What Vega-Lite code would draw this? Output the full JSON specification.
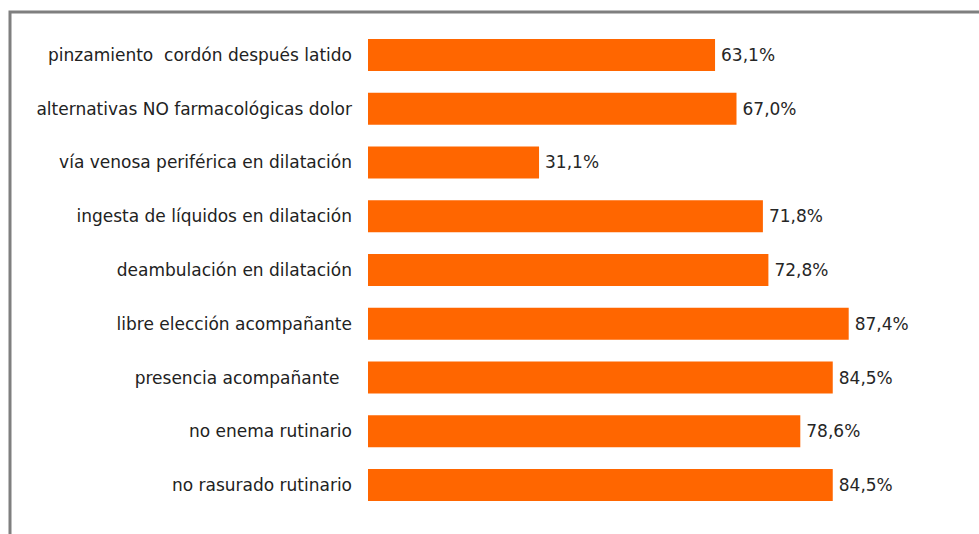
{
  "$schema": "https://vega.github.io/schema/vega-lite/v6.json",
  "autosize": "none",
  "width": 980,
  "height": 540,
  "padding": {"left": 10, "top": 12, "right": 0, "bottom": 0},
  "background": "white",
  "config": {
    "locale": {"number": {"decimal": ",", "thousands": ".", "grouping": [3], "currency": ["", " €"]}},
    "view": {"stroke": "#7f7f7f", "strokeWidth": 3},
    "font": "DejaVu Sans"
  },
  "data": {
    "values": [
      {"item": "pinzamiento\u00a0 cordón después latido", "value": 0.631},
      {"item": "alternativas NO farmacológicas dolor", "value": 0.670},
      {"item": "vía venosa periférica en dilatación", "value": 0.311},
      {"item": "ingesta de líquidos en dilatación", "value": 0.718},
      {"item": "deambulación en dilatación", "value": 0.728},
      {"item": "libre elección acompañante", "value": 0.874},
      {"item": "presencia acompañante\u2800", "value": 0.845},
      {"item": "no enema rutinario", "value": 0.786},
      {"item": "no rasurado rutinario", "value": 0.845}
    ]
  },
  "encoding": {
    "y": {"field": "item", "type": "nominal", "sort": null, "axis": null,
          "scale": {"range": [16, 500], "paddingInner": 0.405, "paddingOuter": 0.2025}}
  },
  "layer": [
    {
      "mark": {"type": "bar", "color": "#ff6600"},
      "encoding": {
        "x": {"field": "value", "type": "quantitative", "axis": null,
              "scale": {"domain": [0, 1], "range": [358, 908], "zero": true, "nice": false}}
      }
    },
    {
      "mark": {"type": "text", "align": "left", "baseline": "middle", "dx": 6, "dy": 1, "fontSize": 17, "color": "#262626"},
      "encoding": {
        "x": {"field": "value", "type": "quantitative"},
        "text": {"field": "value", "type": "quantitative", "format": ".1%"}
      }
    },
    {
      "mark": {"type": "text", "align": "right", "baseline": "middle", "dx": -16, "dy": 1, "fontSize": 17, "color": "#222222"},
      "encoding": {
        "x": {"datum": 0, "type": "quantitative"},
        "text": {"field": "item", "type": "nominal"}
      }
    }
  ]
}
